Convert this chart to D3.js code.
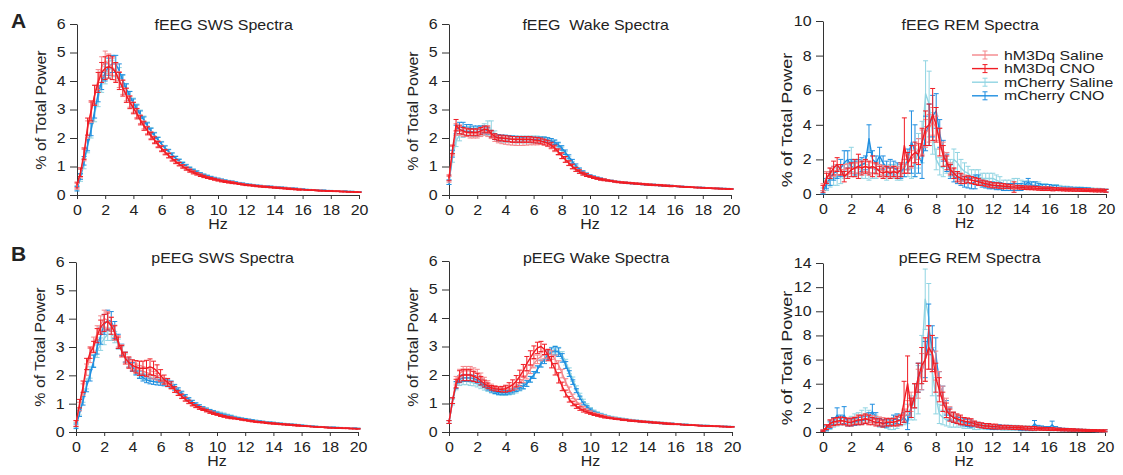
<!DOCTYPE html>
<html>
<head>
<meta charset="utf-8">
<script src="https://cdn.jsdelivr.net/npm/d3@7"></script>
<style>
  body { margin: 0; background: #fff; }
  text { font-family: "Liberation Sans", Arial, sans-serif; fill: #222; }
</style>
</head>
<body>
<svg id="chart" width="1123" height="475"></svg>
<script>
// frequency bins 0..20 Hz, 0.25 Hz resolution (81 bins)
const hzBins = d3.range(81).map(i => i * 0.25);
const hzTicks = [0, 2, 4, 6, 8, 10, 12, 14, 16, 18, 20];

const seriesNames = ["hM3Dq Saline", "hM3Dq CNO", "mCherry Saline", "mCherry CNO"];
const seriesColors = ["#f4868a", "#f01c24", "#90d4e2", "#1f8ee0"];

// shared small-error tail for smooth spectra (10..20 Hz)
const tailErr = [0.03,0.03,0.03,0.03,0.03,0.02,0.02,0.02,0.02,0.02,0.02,0.02,0.02,0.02,0.02,0.02,0.02,0.02,0.02,0.02,
  0.02,0.02,0.02,0.02,0.01,0.01,0.01,0.01,0.01,0.01,0.01,0.01,0.01,0.01,0.01,0.01,0.01,0.01,0.01,0.01,0.01];

// ---------- fEEG SWS ----------
const fSwsHS = [0.30,0.75,1.40,2.30,2.90,3.50,4.05,4.50,4.70,4.60,4.50,4.30,4.05,3.78,3.52,3.28,3.08,2.88,2.66,2.46,
  2.28,2.10,1.95,1.80,1.65,1.52,1.40,1.29,1.19,1.10,1.02,0.94,0.87,0.81,0.75,0.70,0.66,0.62,0.59,0.56,
  0.53,0.50,0.48,0.46,0.44,0.42,0.40,0.38,0.36,0.35,0.33,0.32,0.31,0.30,0.29,0.28,0.27,0.26,0.25,0.24,
  0.23,0.22,0.21,0.20,0.19,0.18,0.18,0.17,0.16,0.16,0.15,0.15,0.14,0.14,0.13,0.13,0.12,0.12,0.11,0.11,0.10];
const fSwsHC = [0.35,0.80,1.45,2.40,2.95,3.50,3.95,4.30,4.45,4.50,4.45,4.30,4.00,3.75,3.50,3.25,3.05,2.85,2.62,2.42,
  2.25,2.07,1.92,1.77,1.62,1.50,1.38,1.27,1.17,1.08,1.00,0.92,0.85,0.79,0.74,0.69,0.65,0.61,0.58,0.55,
  0.52,0.49,0.47,0.45,0.43,0.41,0.39,0.37,0.35,0.34,0.33,0.31,0.30,0.29,0.28,0.27,0.26,0.25,0.24,0.23,
  0.22,0.21,0.20,0.19,0.19,0.18,0.17,0.17,0.16,0.15,0.15,0.14,0.14,0.13,0.13,0.12,0.12,0.11,0.11,0.10,0.10];
const fSwsMS = [0.25,0.60,1.10,1.70,2.25,2.85,3.40,3.90,4.20,4.40,4.45,4.40,4.25,4.00,3.72,3.48,3.25,3.05,2.85,2.65,
  2.45,2.27,2.10,1.95,1.80,1.66,1.54,1.42,1.31,1.21,1.12,1.03,0.95,0.88,0.82,0.76,0.71,0.67,0.63,0.59,
  0.56,0.53,0.50,0.48,0.46,0.44,0.42,0.40,0.38,0.36,0.35,0.33,0.32,0.31,0.30,0.29,0.28,0.27,0.26,0.25,
  0.24,0.23,0.22,0.21,0.20,0.19,0.19,0.18,0.17,0.17,0.16,0.15,0.15,0.14,0.14,0.13,0.13,0.12,0.12,0.11,0.11];
const fSwsMC = [0.22,0.65,1.20,1.75,2.30,2.95,3.55,4.00,4.30,4.50,4.60,4.60,4.35,4.02,3.72,3.47,3.22,3.02,2.82,2.62,
  2.42,2.24,2.08,1.93,1.78,1.64,1.52,1.40,1.29,1.19,1.09,1.01,0.93,0.86,0.80,0.75,0.70,0.66,0.62,0.59,
  0.56,0.53,0.50,0.48,0.46,0.44,0.42,0.40,0.38,0.36,0.35,0.33,0.32,0.31,0.30,0.29,0.28,0.27,0.26,0.25,
  0.24,0.23,0.22,0.21,0.20,0.19,0.18,0.18,0.17,0.16,0.16,0.15,0.15,0.14,0.14,0.13,0.13,0.12,0.12,0.11,0.11];
const fSwsHSe = [0.10,0.15,0.20,0.30,0.35,0.35,0.35,0.35,0.35,0.35,0.30,0.30,0.28,0.25,0.22,0.20,0.18,0.16,0.15,0.14,
  0.13,0.12,0.11,0.10,0.09,0.08,0.08,0.07,0.06,0.06,0.05,0.05,0.05,0.04,0.04,0.04,0.03,0.03,0.03,0.03].concat(tailErr);
const fSwsHCe = [0.10,0.15,0.20,0.30,0.35,0.35,0.35,0.35,0.40,0.40,0.40,0.35,0.30,0.28,0.25,0.22,0.20,0.18,0.16,0.15,
  0.14,0.13,0.12,0.11,0.10,0.09,0.08,0.08,0.07,0.06,0.06,0.05,0.05,0.05,0.04,0.04,0.04,0.03,0.03,0.03].concat(tailErr);
const fSwsMSe = [0.08,0.12,0.18,0.22,0.25,0.28,0.30,0.30,0.30,0.30,0.28,0.25,0.22,0.20,0.18,0.16,0.15,0.14,0.13,0.12,
  0.11,0.10,0.10,0.09,0.08,0.08,0.07,0.07,0.06,0.06,0.05,0.05,0.04,0.04,0.04,0.03,0.03,0.03,0.03,0.03].concat(tailErr);
const fSwsMCe = [0.08,0.10,0.15,0.20,0.22,0.25,0.28,0.30,0.30,0.30,0.30,0.30,0.25,0.20,0.18,0.16,0.15,0.14,0.13,0.12,
  0.11,0.10,0.10,0.09,0.08,0.08,0.07,0.07,0.06,0.06,0.05,0.05,0.04,0.04,0.04,0.03,0.03,0.03,0.03,0.03].concat(tailErr);

// ---------- fEEG Wake ----------
const fWakeHS = [0.55,1.55,2.30,2.25,2.20,2.20,2.15,2.15,2.15,2.20,2.25,2.20,2.10,2.00,1.95,1.92,1.90,1.88,1.87,1.86,
  1.86,1.86,1.87,1.88,1.88,1.88,1.87,1.85,1.80,1.72,1.62,1.50,1.37,1.24,1.11,1.00,0.90,0.82,0.75,0.70,
  0.66,0.62,0.59,0.56,0.54,0.52,0.50,0.48,0.46,0.45,0.44,0.43,0.42,0.41,0.40,0.39,0.38,0.37,0.36,0.35,
  0.35,0.34,0.33,0.32,0.31,0.31,0.30,0.29,0.28,0.28,0.27,0.26,0.26,0.25,0.24,0.24,0.23,0.23,0.22,0.22,0.21];
const fWakeHC = [0.60,1.60,2.45,2.30,2.25,2.20,2.20,2.20,2.20,2.25,2.30,2.30,2.15,2.05,2.00,2.00,1.98,1.97,1.95,1.95,
  1.95,1.95,1.95,1.95,1.93,1.92,1.90,1.86,1.82,1.75,1.65,1.52,1.38,1.25,1.12,1.00,0.90,0.82,0.75,0.70,
  0.65,0.61,0.58,0.55,0.53,0.51,0.49,0.47,0.45,0.44,0.43,0.42,0.41,0.40,0.39,0.38,0.37,0.36,0.35,0.35,
  0.34,0.33,0.32,0.31,0.31,0.30,0.29,0.28,0.28,0.27,0.26,0.26,0.25,0.24,0.24,0.23,0.23,0.22,0.22,0.21,0.21];
const fWakeMS = [0.45,1.30,1.90,2.10,2.20,2.25,2.25,2.20,2.20,2.25,2.30,2.35,2.30,2.10,2.00,1.98,1.97,1.97,1.96,1.95,
  1.95,1.95,1.95,1.95,1.95,1.95,1.95,1.95,1.92,1.88,1.82,1.72,1.58,1.42,1.26,1.10,0.97,0.86,0.78,0.72,
  0.67,0.63,0.60,0.57,0.54,0.52,0.50,0.48,0.46,0.45,0.44,0.42,0.41,0.40,0.39,0.38,0.37,0.37,0.36,0.35,
  0.34,0.34,0.33,0.32,0.31,0.31,0.30,0.29,0.29,0.28,0.27,0.27,0.26,0.25,0.25,0.24,0.24,0.23,0.23,0.22,0.22];
const fWakeMC = [0.45,1.45,2.30,2.40,2.40,2.35,2.35,2.30,2.30,2.30,2.30,2.25,2.15,2.05,2.02,2.00,2.00,1.98,1.97,1.96,
  1.95,1.95,1.95,1.95,1.95,1.95,1.95,1.95,1.93,1.90,1.85,1.77,1.65,1.50,1.34,1.18,1.03,0.90,0.80,0.73,
  0.68,0.64,0.60,0.57,0.54,0.52,0.50,0.48,0.46,0.45,0.44,0.42,0.41,0.40,0.39,0.38,0.37,0.37,0.36,0.35,
  0.34,0.33,0.33,0.32,0.31,0.30,0.30,0.29,0.28,0.28,0.27,0.26,0.26,0.25,0.25,0.24,0.23,0.23,0.22,0.22,0.21];
const fWakeHSe = [0.10,0.15,0.20,0.15,0.15,0.15,0.15,0.15,0.15,0.15,0.15,0.15,0.12,0.12,0.12,0.12,0.12,0.12,0.12,0.12,
  0.12,0.12,0.12,0.12,0.12,0.12,0.10,0.10,0.10,0.10,0.10,0.10,0.10,0.10,0.08,0.08,0.07,0.06,0.05,0.05].concat(tailErr);
const fWakeHCe = [0.10,0.15,0.20,0.15,0.12,0.12,0.12,0.12,0.12,0.12,0.12,0.12,0.12,0.10,0.10,0.10,0.10,0.10,0.10,0.10,
  0.10,0.10,0.10,0.10,0.10,0.10,0.10,0.10,0.10,0.10,0.10,0.10,0.10,0.10,0.08,0.08,0.07,0.06,0.05,0.05].concat(tailErr);
const fWakeMSe = [0.08,0.15,0.20,0.20,0.18,0.15,0.15,0.15,0.15,0.18,0.20,0.25,0.30,0.15,0.12,0.12,0.12,0.12,0.12,0.12,
  0.12,0.12,0.12,0.12,0.12,0.12,0.10,0.10,0.10,0.10,0.10,0.10,0.10,0.10,0.08,0.08,0.07,0.06,0.05,0.05].concat(tailErr);
const fWakeMCe = [0.08,0.12,0.15,0.15,0.15,0.12,0.12,0.12,0.12,0.12,0.12,0.12,0.10,0.10,0.10,0.10,0.10,0.10,0.10,0.10,
  0.08,0.08,0.08,0.08,0.08,0.08,0.08,0.08,0.08,0.08,0.08,0.08,0.08,0.08,0.07,0.07,0.06,0.05,0.05,0.04].concat(tailErr);

// ---------- fEEG REM ----------
const fRemHS = [0.40,1.00,1.20,1.30,1.40,1.40,1.40,1.45,1.50,1.50,1.50,1.55,1.60,1.55,1.50,1.45,1.40,1.35,1.30,1.30,
  1.30,1.30,1.40,1.60,1.80,2.00,2.30,2.60,3.00,3.50,3.80,4.20,3.80,3.20,2.50,2.00,1.50,1.20,1.00,0.95,
  0.90,0.85,0.80,0.75,0.70,0.65,0.60,0.55,0.52,0.50,0.48,0.46,0.44,0.42,0.40,0.40,0.38,0.37,0.36,0.35,
  0.34,0.33,0.32,0.31,0.30,0.30,0.29,0.28,0.27,0.26,0.25,0.25,0.24,0.24,0.23,0.23,0.22,0.22,0.21,0.21,0.20];
const fRemHC = [0.30,0.90,1.20,1.50,1.70,1.40,1.00,1.20,1.40,1.50,1.60,1.50,1.60,1.50,1.60,1.50,1.30,1.20,1.30,1.20,
  1.30,1.20,1.40,2.80,1.80,2.20,2.40,2.30,3.00,3.80,4.00,4.60,4.00,3.00,2.20,1.80,1.40,1.20,1.00,0.90,
  0.80,0.85,0.80,0.75,0.70,0.65,0.60,0.55,0.50,0.50,0.48,0.45,0.45,0.42,0.40,0.40,0.38,0.36,0.35,0.35,
  0.34,0.32,0.30,0.30,0.30,0.28,0.28,0.27,0.26,0.25,0.25,0.24,0.24,0.23,0.22,0.22,0.21,0.20,0.20,0.20,0.18];
const fRemMS = [0.20,0.50,0.80,0.90,1.00,1.10,1.30,1.40,2.00,1.50,1.50,1.30,1.30,1.20,1.20,1.30,1.50,1.30,1.20,1.30,
  1.30,1.20,1.20,1.40,1.50,1.50,1.80,2.50,3.00,5.80,5.20,3.50,2.00,1.60,1.50,1.80,1.50,2.00,1.80,1.50,
  1.30,1.20,1.00,1.00,1.00,0.90,0.90,0.90,0.90,0.80,0.70,0.60,0.60,0.60,0.60,0.60,0.60,0.55,0.55,0.50,
  0.50,0.50,0.45,0.45,0.40,0.40,0.40,0.35,0.35,0.35,0.30,0.30,0.30,0.30,0.28,0.28,0.25,0.25,0.25,0.22,0.20];
const fRemMC = [0.10,0.60,0.90,1.20,1.30,1.50,1.80,2.00,1.60,1.50,1.60,1.70,1.80,3.20,2.00,1.80,2.20,1.80,1.50,1.60,
  1.50,1.40,1.30,1.50,2.00,3.00,2.50,2.20,1.80,3.50,4.00,4.50,4.80,3.50,2.50,1.80,1.30,1.00,0.90,0.80,
  0.70,0.65,0.60,0.70,0.80,0.60,0.55,0.50,0.50,0.45,0.45,0.40,0.40,0.40,0.40,0.40,0.40,0.50,0.70,0.50,
  0.50,0.45,0.40,0.40,0.40,0.35,0.35,0.30,0.30,0.30,0.30,0.28,0.28,0.27,0.26,0.25,0.24,0.23,0.22,0.21,0.20];
const fRemHSe = [0.20,0.30,0.30,0.30,0.30,0.30,0.30,0.30,0.30,0.30,0.30,0.30,0.30,0.30,0.30,0.30,0.30,0.30,0.30,0.30,
  0.30,0.30,0.30,0.40,0.40,0.50,0.50,0.60,0.70,0.80,0.80,0.80,0.70,0.60,0.50,0.40,0.30,0.30,0.20,0.20,
  0.20,0.20,0.20,0.15,0.15,0.15,0.15,0.15,0.12,0.12,0.12,0.12,0.12,0.10,0.10,0.10,0.10,0.10,0.10,0.10,
  0.10,0.10,0.10,0.10,0.08,0.08,0.08,0.08,0.08,0.08,0.08,0.08,0.08,0.08,0.08,0.08,0.08,0.08,0.08,0.08,0.08];
const fRemHCe = [0.20,0.30,0.30,0.40,0.40,0.30,0.30,0.30,0.40,0.50,0.70,0.40,0.40,0.40,0.60,0.30,0.30,0.30,0.30,0.30,
  0.30,0.30,0.40,1.60,0.60,0.60,0.60,0.60,0.80,1.00,1.20,1.50,1.00,0.80,0.60,0.40,0.30,0.30,0.30,0.30,
  0.20,0.20,0.20,0.20,0.20,0.15,0.15,0.15,0.15,0.15,0.15,0.15,0.12,0.12,0.30,0.10,0.10,0.10,0.10,0.10,
  0.10,0.10,0.10,0.10,0.10,0.10,0.08,0.08,0.08,0.08,0.08,0.08,0.08,0.08,0.08,0.08,0.08,0.08,0.08,0.08,0.08];
const fRemMSe = [0.15,0.30,0.40,0.40,0.50,0.50,0.40,0.40,0.70,0.50,0.40,0.40,0.40,0.40,0.30,0.40,0.40,0.40,0.40,0.40,
  0.40,0.40,0.40,0.40,0.50,0.60,0.80,1.00,1.20,1.90,1.90,1.20,0.60,0.50,0.50,0.60,0.50,0.60,0.60,0.50,
  0.50,0.40,0.40,0.40,0.40,0.30,0.30,0.30,0.30,0.30,0.30,0.20,0.20,0.20,0.30,0.30,0.20,0.20,0.20,0.20,
  0.20,0.20,0.15,0.15,0.15,0.15,0.15,0.15,0.10,0.10,0.10,0.10,0.10,0.10,0.10,0.10,0.10,0.08,0.08,0.08,0.08];
const fRemMCe = [0.10,0.30,0.40,0.40,0.40,0.50,0.70,0.50,0.40,0.40,0.40,0.40,0.40,0.80,0.50,0.40,0.50,0.40,0.40,0.40,
  0.40,0.40,0.40,0.50,0.60,1.80,1.50,1.00,0.90,1.00,1.20,1.20,1.00,0.80,0.60,0.50,0.40,0.30,0.30,0.30,
  0.30,0.30,0.30,0.40,0.30,0.20,0.20,0.20,0.20,0.20,0.20,0.20,0.20,0.20,0.20,0.20,0.20,0.20,0.20,0.20,
  0.20,0.15,0.15,0.15,0.15,0.15,0.15,0.10,0.10,0.10,0.10,0.10,0.10,0.10,0.10,0.10,0.08,0.08,0.08,0.08,0.08];

// ---------- pEEG SWS ----------
const pSwsHS = [0.30,0.90,1.50,2.20,2.70,3.10,3.50,3.80,4.00,3.95,3.80,3.55,3.20,2.90,2.65,2.45,2.35,2.25,2.20,2.15,
  2.10,2.05,2.00,1.95,1.88,1.80,1.70,1.60,1.48,1.37,1.26,1.16,1.07,0.99,0.92,0.86,0.81,0.76,0.71,0.67,
  0.63,0.59,0.56,0.53,0.50,0.48,0.46,0.44,0.42,0.40,0.38,0.37,0.35,0.34,0.33,0.31,0.30,0.29,0.28,0.27,
  0.26,0.25,0.24,0.23,0.22,0.21,0.20,0.19,0.19,0.18,0.17,0.16,0.16,0.15,0.15,0.14,0.14,0.13,0.13,0.12,0.12];
const pSwsHC = [0.30,1.00,1.60,2.40,2.80,3.00,3.40,3.70,3.85,3.90,3.75,3.50,3.15,2.85,2.60,2.45,2.35,2.30,2.25,2.25,
  2.25,2.30,2.25,2.15,2.00,1.85,1.75,1.65,1.50,1.38,1.26,1.16,1.06,0.98,0.91,0.85,0.80,0.75,0.70,0.66,
  0.62,0.58,0.55,0.52,0.50,0.48,0.46,0.44,0.42,0.40,0.38,0.36,0.35,0.34,0.32,0.31,0.30,0.29,0.28,0.27,
  0.26,0.25,0.24,0.23,0.22,0.21,0.20,0.19,0.18,0.17,0.17,0.16,0.15,0.15,0.14,0.14,0.13,0.13,0.12,0.12,0.11];
const pSwsMS = [0.25,0.70,1.20,1.70,2.10,2.50,2.85,3.10,3.30,3.45,3.45,3.35,3.10,2.85,2.60,2.42,2.28,2.15,2.05,1.97,
  1.92,1.90,1.88,1.85,1.82,1.78,1.72,1.65,1.55,1.45,1.35,1.25,1.15,1.06,0.98,0.92,0.86,0.81,0.77,0.73,
  0.70,0.67,0.64,0.60,0.57,0.54,0.51,0.48,0.46,0.44,0.42,0.40,0.38,0.36,0.35,0.34,0.33,0.31,0.30,0.29,
  0.28,0.27,0.26,0.25,0.24,0.23,0.22,0.21,0.20,0.19,0.18,0.18,0.17,0.16,0.16,0.15,0.15,0.14,0.14,0.13,0.13];
const pSwsMC = [0.20,0.65,1.10,1.60,2.00,2.50,3.00,3.40,3.80,3.95,3.90,3.60,3.20,2.90,2.65,2.45,2.30,2.15,2.02,1.92,
  1.85,1.80,1.78,1.76,1.75,1.75,1.72,1.68,1.58,1.47,1.36,1.25,1.15,1.06,0.98,0.91,0.85,0.80,0.75,0.71,
  0.67,0.63,0.60,0.57,0.54,0.51,0.49,0.47,0.45,0.43,0.41,0.39,0.37,0.36,0.34,0.33,0.32,0.30,0.29,0.28,
  0.27,0.26,0.25,0.24,0.23,0.22,0.21,0.20,0.19,0.18,0.18,0.17,0.16,0.16,0.15,0.15,0.14,0.14,0.13,0.13,0.12];
const pSwsHSe = [0.10,0.15,0.20,0.20,0.25,0.25,0.25,0.30,0.30,0.30,0.25,0.22,0.20,0.18,0.18,0.16,0.15,0.15,0.15,0.15,
  0.15,0.14,0.13,0.12,0.11,0.10,0.09,0.08,0.08,0.07,0.06,0.06,0.05,0.05,0.05,0.04,0.04,0.04,0.04,0.03].concat(tailErr);
const pSwsHCe = [0.10,0.15,0.20,0.20,0.20,0.20,0.25,0.25,0.30,0.30,0.30,0.25,0.20,0.20,0.20,0.20,0.20,0.22,0.25,0.25,
  0.28,0.28,0.25,0.22,0.20,0.16,0.14,0.12,0.10,0.09,0.08,0.07,0.06,0.06,0.05,0.05,0.04,0.04,0.04,0.04].concat(tailErr);
const pSwsMSe = [0.08,0.10,0.15,0.18,0.20,0.20,0.22,0.22,0.22,0.22,0.22,0.20,0.18,0.16,0.15,0.14,0.13,0.12,0.12,0.11,
  0.10,0.10,0.10,0.09,0.09,0.08,0.08,0.07,0.07,0.06,0.06,0.05,0.05,0.05,0.04,0.04,0.04,0.04,0.03,0.03].concat(tailErr);
const pSwsMCe = [0.08,0.10,0.15,0.18,0.20,0.22,0.25,0.30,0.35,0.35,0.35,0.30,0.25,0.20,0.18,0.16,0.15,0.14,0.13,0.12,
  0.11,0.10,0.10,0.10,0.10,0.12,0.12,0.12,0.10,0.09,0.08,0.07,0.06,0.06,0.05,0.05,0.04,0.04,0.04,0.04].concat(tailErr);

// ---------- pEEG Wake ----------
const pWakeHS = [0.35,1.10,1.80,2.05,2.15,2.15,2.15,2.10,2.05,1.95,1.82,1.70,1.60,1.55,1.52,1.50,1.50,1.52,1.55,1.62,
  1.72,1.85,2.00,2.20,2.40,2.55,2.65,2.72,2.75,2.70,2.55,2.35,2.05,1.75,1.48,1.25,1.08,0.95,0.85,0.77,
  0.71,0.66,0.62,0.58,0.55,0.52,0.50,0.48,0.46,0.44,0.43,0.41,0.40,0.39,0.38,0.37,0.36,0.35,0.34,0.33,
  0.32,0.31,0.30,0.29,0.28,0.27,0.26,0.26,0.25,0.24,0.24,0.23,0.22,0.22,0.21,0.21,0.20,0.20,0.19,0.19,0.18];
const pWakeHC = [0.35,1.10,1.70,1.95,2.00,2.00,2.00,1.95,1.90,1.80,1.70,1.62,1.55,1.52,1.50,1.50,1.52,1.58,1.65,1.78,
  1.95,2.15,2.40,2.60,2.80,2.95,3.00,2.90,2.70,2.45,2.20,1.90,1.60,1.35,1.15,1.00,0.90,0.82,0.75,0.70,
  0.65,0.61,0.58,0.55,0.52,0.50,0.48,0.46,0.45,0.43,0.42,0.40,0.39,0.38,0.37,0.36,0.35,0.34,0.33,0.32,
  0.31,0.30,0.29,0.28,0.27,0.27,0.26,0.25,0.24,0.24,0.23,0.22,0.22,0.21,0.21,0.20,0.20,0.19,0.19,0.18,0.18];
const pWakeMS = [0.35,1.05,1.60,1.75,1.78,1.78,1.75,1.72,1.68,1.62,1.55,1.50,1.45,1.40,1.37,1.35,1.35,1.37,1.40,1.45,
  1.52,1.60,1.70,1.85,2.00,2.20,2.40,2.60,2.75,2.85,2.90,2.85,2.70,2.45,2.15,1.85,1.55,1.30,1.10,0.95,
  0.83,0.74,0.68,0.63,0.59,0.56,0.53,0.51,0.49,0.47,0.45,0.43,0.42,0.40,0.39,0.38,0.37,0.36,0.35,0.34,
  0.33,0.32,0.31,0.30,0.29,0.28,0.27,0.27,0.26,0.25,0.24,0.24,0.23,0.23,0.22,0.21,0.21,0.20,0.20,0.19,0.19];
const pWakeMC = [0.35,1.10,1.65,1.85,1.90,1.90,1.90,1.88,1.82,1.75,1.65,1.55,1.48,1.42,1.38,1.38,1.38,1.40,1.45,1.50,
  1.55,1.62,1.70,1.85,2.00,2.20,2.40,2.55,2.70,2.80,2.85,2.80,2.60,2.35,2.05,1.75,1.45,1.20,1.00,0.88,
  0.78,0.70,0.64,0.60,0.56,0.53,0.50,0.48,0.46,0.44,0.43,0.41,0.40,0.39,0.37,0.36,0.35,0.34,0.33,0.32,
  0.31,0.30,0.29,0.29,0.28,0.27,0.26,0.26,0.25,0.24,0.24,0.23,0.22,0.22,0.21,0.21,0.20,0.20,0.19,0.19,0.18];
const pWakeHSe = [0.05,0.10,0.15,0.15,0.15,0.15,0.15,0.15,0.15,0.12,0.10,0.10,0.08,0.08,0.08,0.08,0.08,0.10,0.10,0.12,
  0.12,0.12,0.14,0.15,0.15,0.15,0.15,0.15,0.15,0.15,0.15,0.15,0.15,0.12,0.10,0.08,0.07,0.06,0.05,0.04].concat(tailErr);
const pWakeHCe = [0.05,0.10,0.15,0.20,0.20,0.20,0.20,0.18,0.16,0.15,0.12,0.10,0.08,0.08,0.08,0.10,0.12,0.15,0.18,0.20,
  0.22,0.22,0.25,0.25,0.22,0.20,0.18,0.18,0.20,0.20,0.20,0.18,0.15,0.12,0.10,0.08,0.07,0.06,0.05,0.04].concat(tailErr);
const pWakeMSe = [0.05,0.10,0.12,0.12,0.12,0.12,0.12,0.10,0.10,0.10,0.08,0.08,0.08,0.07,0.07,0.07,0.07,0.07,0.08,0.08,
  0.08,0.10,0.10,0.10,0.12,0.12,0.12,0.12,0.12,0.12,0.12,0.12,0.12,0.10,0.10,0.08,0.07,0.06,0.05,0.04].concat(tailErr);
const pWakeMCe = [0.05,0.10,0.12,0.12,0.12,0.12,0.12,0.10,0.10,0.10,0.08,0.08,0.08,0.07,0.07,0.07,0.07,0.07,0.08,0.08,
  0.08,0.10,0.10,0.10,0.12,0.12,0.12,0.15,0.15,0.15,0.15,0.15,0.15,0.12,0.10,0.08,0.07,0.06,0.05,0.04].concat(tailErr);

// ---------- pEEG REM ----------
const pRemHS = [0.15,0.40,0.70,0.80,0.85,0.90,0.90,0.90,0.90,0.95,1.00,1.05,1.10,1.10,1.05,1.00,0.95,0.90,0.85,0.85,
  0.85,0.90,1.00,1.40,2.00,2.50,3.00,4.00,5.00,6.00,7.00,6.50,5.50,4.00,3.00,2.20,1.60,1.30,1.10,1.00,
  0.90,0.85,0.80,0.70,0.60,0.55,0.50,0.50,0.45,0.45,0.40,0.40,0.40,0.38,0.36,0.35,0.35,0.33,0.32,0.30,
  0.30,0.28,0.27,0.26,0.25,0.24,0.22,0.21,0.20,0.19,0.18,0.17,0.16,0.15,0.14,0.13,0.12,0.12,0.11,0.10,0.10];
const pRemHC = [0.10,0.40,0.70,0.85,0.90,0.95,0.90,0.80,0.80,0.90,1.00,1.00,1.10,1.00,0.90,0.80,0.80,0.70,0.80,0.80,
  0.80,0.90,1.00,2.50,4.00,2.00,3.00,4.50,5.50,6.00,7.00,6.50,4.50,3.50,2.50,1.80,1.40,1.20,1.10,1.00,
  0.90,0.85,0.80,0.70,0.60,0.55,0.50,0.50,0.45,0.45,0.40,0.40,0.40,0.38,0.36,0.35,0.35,0.33,0.32,0.30,
  0.30,0.28,0.27,0.26,0.25,0.24,0.22,0.21,0.20,0.19,0.18,0.17,0.16,0.15,0.14,0.13,0.12,0.12,0.11,0.10,0.10];
const pRemMS = [0.10,0.30,0.50,0.70,0.80,0.90,0.90,0.90,1.00,1.10,1.20,1.30,1.50,1.40,1.20,1.00,0.80,0.70,0.60,0.60,
  0.70,0.80,1.00,1.20,1.50,2.00,2.50,3.50,6.00,11.00,9.50,5.00,3.00,1.50,1.20,1.00,0.90,0.90,0.90,0.80,
  0.70,0.70,0.60,0.50,0.50,0.45,0.40,0.40,0.40,0.40,0.40,0.35,0.35,0.35,0.35,0.35,0.30,0.30,0.30,0.30,
  0.30,0.30,0.28,0.28,0.26,0.25,0.24,0.22,0.20,0.20,0.18,0.18,0.16,0.15,0.15,0.14,0.13,0.12,0.12,0.11,0.10];
const pRemMC = [0.10,0.30,0.60,0.90,1.40,1.00,1.40,0.80,0.80,0.85,0.90,0.95,1.00,1.20,1.70,1.20,0.80,0.75,0.70,0.80,
  1.00,1.10,0.90,1.20,0.80,2.00,3.00,4.50,5.00,6.00,8.50,7.00,6.50,4.00,3.00,2.00,1.50,1.20,1.00,0.90,
  0.80,0.75,0.70,0.65,0.60,0.55,0.50,0.45,0.40,0.40,0.40,0.40,0.40,0.40,0.35,0.35,0.30,0.30,0.30,0.30,
  0.70,0.40,0.35,0.30,0.30,0.60,0.30,0.25,0.20,0.20,0.18,0.17,0.15,0.14,0.13,0.12,0.12,0.11,0.10,0.10,0.10];
const pRemHSe = [0.05,0.20,0.30,0.30,0.30,0.30,0.30,0.30,0.30,0.30,0.30,0.30,0.30,0.30,0.30,0.30,0.30,0.30,0.30,0.30,
  0.30,0.30,0.40,0.50,0.60,0.80,1.00,1.20,1.50,1.80,1.80,1.50,1.20,1.00,0.80,0.60,0.50,0.40,0.30,0.30,
  0.30,0.30,0.20,0.20,0.20,0.20,0.20,0.15,0.15,0.15,0.15,0.15,0.15,0.15,0.15,0.12,0.12,0.12,0.12,0.12,
  0.12,0.12,0.10,0.10,0.10,0.10,0.10,0.10,0.10,0.08,0.08,0.08,0.08,0.08,0.08,0.08,0.08,0.08,0.08,0.08,0.08];
const pRemHCe = [0.05,0.20,0.30,0.30,0.30,0.30,0.30,0.30,0.30,0.30,0.40,0.40,0.40,0.40,0.30,0.30,0.30,0.30,0.30,0.30,
  0.30,0.40,0.40,1.70,2.30,0.80,1.00,1.20,1.50,1.80,1.80,1.50,1.20,1.00,0.80,0.60,0.50,0.40,0.40,0.40,
  0.30,0.30,0.30,0.20,0.20,0.20,0.20,0.20,0.20,0.20,0.15,0.15,0.15,0.15,0.15,0.15,0.15,0.15,0.15,0.15,
  0.15,0.12,0.12,0.12,0.12,0.12,0.10,0.10,0.10,0.10,0.10,0.10,0.08,0.08,0.08,0.08,0.08,0.08,0.08,0.08,0.08];
const pRemMSe = [0.05,0.20,0.30,0.30,0.30,0.30,0.30,0.30,0.30,0.40,0.40,0.50,0.50,0.40,0.40,0.40,0.40,0.30,0.30,0.40,
  0.50,0.50,0.50,0.60,0.80,1.00,1.50,2.00,2.00,2.50,2.80,2.00,1.50,0.80,0.60,0.50,0.50,0.50,0.50,0.40,
  0.40,0.40,0.30,0.30,0.30,0.20,0.20,0.20,0.20,0.20,0.20,0.20,0.20,0.20,0.20,0.20,0.20,0.20,0.20,0.20,
  0.20,0.15,0.15,0.15,0.15,0.15,0.12,0.12,0.12,0.10,0.10,0.10,0.10,0.10,0.08,0.08,0.08,0.08,0.08,0.08,0.08];
const pRemMCe = [0.05,0.20,0.30,0.30,0.60,0.40,0.70,0.30,0.30,0.30,0.30,0.30,0.30,0.40,0.60,0.40,0.30,0.30,0.30,0.30,
  0.40,0.40,0.30,0.40,0.60,0.80,1.00,1.20,1.50,1.50,2.10,1.80,1.30,1.00,0.80,0.60,0.50,0.40,0.30,0.30,
  0.30,0.30,0.30,0.20,0.20,0.20,0.20,0.20,0.20,0.20,0.20,0.15,0.15,0.15,0.15,0.15,0.15,0.15,0.15,0.15,
  0.25,0.15,0.15,0.15,0.15,0.30,0.15,0.12,0.10,0.10,0.10,0.10,0.08,0.08,0.08,0.08,0.08,0.08,0.08,0.08,0.08];

// panel layout (pixel boxes) + which arrays go where
const panels = [
  {title: "fEEG SWS Spectra",   letter: "A", x0: 77,  x1: 359,  yTop: 24,  yBot: 195, yMax: 6,  yStep: 1, labY: 110, tY: 30,
   means: [fSwsHS, fSwsHC, fSwsMS, fSwsMC], errs: [fSwsHSe, fSwsHCe, fSwsMSe, fSwsMCe]},
  {title: "fEEG  Wake Spectra", x0: 449, x1: 731, yTop: 24, yBot: 195, yMax: 6, yStep: 1, labY: 111, tY: 30,
   means: [fWakeHS, fWakeHC, fWakeMS, fWakeMC], errs: [fWakeHSe, fWakeHCe, fWakeMSe, fWakeMCe]},
  {title: "fEEG REM Spectra", x0: 823, x1: 1106, yTop: 21, yBot: 194, yMax: 10, yStep: 2, labY: 120, tY: 30, big: true, legend: true,
   means: [fRemHS, fRemHC, fRemMS, fRemMC], errs: [fRemHSe, fRemHCe, fRemMSe, fRemMCe]},
  {title: "pEEG SWS Spectra", letter: "B", x0: 76, x1: 358, yTop: 262, yBot: 432, yMax: 6, yStep: 1, labY: 347, tY: 263,
   means: [pSwsHS, pSwsHC, pSwsMS, pSwsMC], errs: [pSwsHSe, pSwsHCe, pSwsMSe, pSwsMCe]},
  {title: "pEEG Wake Spectra", x0: 449, x1: 732, yTop: 261, yBot: 432, yMax: 6, yStep: 1, labY: 347, tY: 263,
   means: [pWakeHS, pWakeHC, pWakeMS, pWakeMC], errs: [pWakeHSe, pWakeHCe, pWakeMSe, pWakeMCe]},
  {title: "pEEG REM Spectra", x0: 823, x1: 1105, yTop: 263, yBot: 432, yMax: 14, yStep: 2, labY: 358, tY: 263, big: true,
   means: [pRemHS, pRemHC, pRemMS, pRemMC], errs: [pRemHSe, pRemHCe, pRemMSe, pRemMCe]}
];

const drawOrder = [2, 3, 0, 1]; // mCherry under, hM3Dq on top
const svg = d3.select("#chart");
const SX = 1.14; // source fonts run wider than Liberation Sans

function label(g, x, y, str, size, opts) {
  opts = opts || {};
  return g.append("text")
    .attr("transform", `translate(${x},${y})` + (opts.rot ? " rotate(-90)" : "") + ` scale(${opts.sx || SX},1)`)
    .attr("text-anchor", opts.anchor || "middle")
    .style("font-size", size + "px")
    .style("font-weight", opts.bold ? "bold" : "normal")
    .style("white-space", "pre")
    .text(str);
}

panels.forEach(p => {
  const g = svg.append("g");
  const x = d3.scaleLinear().domain([0, 20]).range([p.x0, p.x1]);
  const y = d3.scaleLinear().domain([0, p.yMax]).range([p.yBot, p.yTop]);

  // axes
  const xAx = g.append("g").attr("transform", `translate(0,${p.yBot})`)
    .call(d3.axisBottom(x).tickValues(hzTicks).tickFormat(d3.format("d"))
      .tickSize(4).tickPadding(6).tickSizeOuter(0));
  const yAx = g.append("g").attr("transform", `translate(${p.x0},0)`)
    .call(d3.axisLeft(y).tickValues(d3.range(0, p.yMax + 0.001, p.yStep)).tickFormat(d3.format("d"))
      .tickSize(7).tickPadding(3).tickSizeOuter(0));
  [xAx, yAx].forEach(a => {
    a.select(".domain").attr("stroke", "#333");
    a.selectAll(".tick line").attr("stroke", "#333");
    a.selectAll(".tick text").style("font-size", "14px").attr("fill", "#222")
      .attr("font-family", null).attr("transform", `scale(${SX},1)`);
  });

  // series: error bars then mean line
  drawOrder.forEach(si => {
    const col = seriesColors[si];
    const pts = hzBins.map((f, i) => ({f: f, m: p.means[si][i], e: p.errs[si][i]}));
    const eb = g.append("g").attr("stroke", col).attr("stroke-width", 1).attr("fill", "none");
    eb.selectAll("path").data(pts).join("path")
      .attr("d", d => {
        const cx = x(d.f), yl = y(Math.max(0, d.m - d.e)), yh = y(d.m + d.e);
        return `M${cx},${yl}V${yh}M${cx - 2.5},${yh}H${cx + 2.5}M${cx - 2.5},${yl}H${cx + 2.5}`;
      });
    g.append("path").datum(pts)
      .attr("fill", "none").attr("stroke", col).attr("stroke-width", 1.4)
      .attr("stroke-linejoin", "round")
      .attr("d", d3.line().x(d => x(d.f)).y(d => y(d.m)));
  });

  // texts
  const cx = (p.x0 + p.x1) / 2;
  label(g, p.x0 + (p.x1 - p.x0) * 0.52, p.tY, p.title, 14);
  label(g, cx, p.yBot + 34, "Hz", 14);
  label(g, p.x0 - 31, p.labY, "% of Total Power", p.big ? 15 : 14, {rot: true, sx: p.big ? 1.2 : SX});
  if (p.letter) label(g, 11, p.tY - 2, p.letter, 21, {anchor: "start", bold: true, sx: 1});

  if (p.legend) {
    const lg = g.append("g");
    seriesNames.forEach((nm, i) => {
      const ly = 55 + i * 13.6;
      lg.append("line").attr("x1", 972).attr("x2", 998).attr("y1", ly).attr("y2", ly)
        .attr("stroke", seriesColors[i]).attr("stroke-width", 1.4);
      lg.append("path").attr("d", `M985,${ly - 4}V${ly + 4}M982.5,${ly - 4}H987.5M982.5,${ly + 4}H987.5`)
        .attr("stroke", seriesColors[i]).attr("stroke-width", 1).attr("fill", "none");
      label(lg, 1004, ly + 4.5, nm, 13, {anchor: "start", sx: 1.22});
    });
  }
});
</script>
</body>
</html>
